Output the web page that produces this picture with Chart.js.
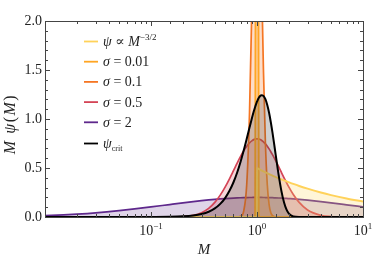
<!DOCTYPE html>
<html>
<head>
<meta charset="utf-8">
<script src="https://cdn.jsdelivr.net/npm/chart.js@4.4.1/dist/chart.umd.min.js"></script>
<style>
  html, body { margin: 0; padding: 0; background: #fff; }
</style>
</head>
<body>
<canvas id="massChart" width="374" height="265"></canvas>
<script>
// masses M (shared grid, dense around M = 1)
const masses = [
  0.01, 0.015, 0.02, 0.03, 0.05, 0.07, 0.1, 0.15, 0.2, 0.25,
  0.3, 0.35, 0.4, 0.45, 0.5, 0.55, 0.6, 0.65, 0.7, 0.75,
  0.8, 0.85, 0.9, 0.93, 0.96, 0.98, 0.99, 0.995, 1, 1.005,
  1.01, 1.02, 1.04, 1.07, 1.1, 1.15, 1.2, 1.25, 1.3, 1.35,
  1.4, 1.45, 1.5, 1.6, 1.7, 1.8, 1.9, 2, 2.2, 2.5,
  3, 4, 5, 7, 10
]

// M psi(M) for each curve
const powerLaw = [
  0, 0, 0, 0, 0, 0, 0, 0, 0, 0,
  0, 0, 0, 0, 0, 0, 0, 0, 0, 0,
  0, 0, 0, 0, 0, 0, 0, 0, 0.5, 0.4988,
  0.4975, 0.4951, 0.4903, 0.4834, 0.4767, 0.4663, 0.4564, 0.4472, 0.4385, 0.4303,
  0.4226, 0.4152, 0.4082, 0.3953, 0.3835, 0.3727, 0.3627, 0.3536, 0.3371, 0.3162,
  0.2887, 0.25, 0.2236, 0.189, 0.1581
]
const sigma001 = [
  0, 0, 0, 0, 0, 0, 0, 0, 0, 0,
  0, 0, 0, 0, 0, 0, 0, 0, 0, 0,
  0, 0, 0, 0, 0.0099, 5.19, 24.07, 35.18, 39.89, 35.22,
  24.32, 5.62, 0.018, 0, 0, 0, 0, 0, 0, 0,
  0, 0, 0, 0, 0, 0, 0, 0, 0, 0,
  0, 0, 0, 0, 0
]
const sigma01 = [
  0, 0, 0, 0, 0, 0, 0, 0, 0, 0,
  0, 0, 0, 0, 0, 0, 0, 0.0004, 0.0069, 0.0634,
  0.331, 1.065, 2.29, 3.066, 3.67, 3.909, 3.969, 3.984, 3.989, 3.984,
  3.969, 3.912, 3.694, 3.173, 2.533, 1.502, 0.757, 0.331, 0.1276, 0.0442,
  0.0139, 0.004, 0.001, 0, 0, 0, 0, 0, 0, 0,
  0, 0, 0, 0, 0
]
const sigma05 = [
  0, 0, 0, 0, 0, 0, 0, 0.0006, 0.0045, 0.0171,
  0.044, 0.088, 0.149, 0.223, 0.305, 0.39, 0.473, 0.5505, 0.6186, 0.676,
  0.722, 0.757, 0.78, 0.7895, 0.7952, 0.7972, 0.7978, 0.7979, 0.7979, 0.7979,
  0.7978, 0.7973, 0.7954, 0.7906, 0.7835, 0.7673, 0.7466, 0.7223, 0.6953, 0.6664,
  0.6364, 0.6054, 0.5743, 0.513, 0.4543, 0.3998, 0.35, 0.305, 0.2301, 0.149,
  0.0714, 0.0171, 0.0045, 0.0004, 0
]
const sigma2 = [
  0.0141, 0.022, 0.0295, 0.0429, 0.065, 0.0824, 0.1028, 0.1272, 0.1443, 0.1569,
  0.1664, 0.1738, 0.1796, 0.1842, 0.1878, 0.1908, 0.1931, 0.1949, 0.1963, 0.1974,
  0.1982, 0.1988, 0.1992, 0.1994, 0.1995, 0.1995, 0.1995, 0.1995, 0.1995, 0.1995,
  0.1995, 0.1995, 0.1995, 0.1994, 0.1993, 0.199, 0.1986, 0.1982, 0.1978, 0.1972,
  0.1967, 0.1961, 0.1954, 0.194, 0.1926, 0.191, 0.1895, 0.1878, 0.1846, 0.1796,
  0.1715, 0.1569, 0.1443, 0.1243, 0.1028
]
const psiCrit = [
  0, 0, 0, 0, 0, 0.0001, 0.0005, 0.0021, 0.0065, 0.0151,
  0.0301, 0.0535, 0.0873, 0.1335, 0.1932, 0.267, 0.3546, 0.4545, 0.5645, 0.6805,
  0.7983, 0.9123, 1.0171, 1.0731, 1.1228, 1.1518, 1.165, 1.1713, 1.1772, 1.1829,
  1.1885, 1.1988, 1.2164, 1.2349, 1.2436, 1.236, 1.2017, 1.1428, 1.063, 0.967,
  0.8604, 0.7485, 0.6365, 0.4298, 0.2642, 0.1475, 0.0746, 0.0341, 0.0052, 0.0001,
  0, 0, 0, 0, 0
]

const xTickLabels = [[0.1, '10', '\u22121'], [1, '10', '0'], [10, '10', '1']]
const yTickLabels = [0, 0.5, 1, 1.5, 2]

const serif = "'Liberation Serif', 'DejaVu Serif', serif"
const textColor = '#222'

function pts(ys) {
  return masses.map((m, i) => ({ x: m, y: ys[i] }))
}

function ds(label, ys, color, fillColor, width, order) {
  return {
    label: label,
    data: pts(ys),
    borderColor: color,
    backgroundColor: fillColor,
    borderWidth: width,
    fill: 'origin',
    pointRadius: 0,
    cubicInterpolationMode: 'monotone',
    order: order
  }
}

const datasets = [
  ds('powerlaw', powerLaw, 'rgb(255,210,90)', 'rgba(255,214,100,0.25)', 1.9, 1),
  ds('s001', sigma001, 'rgb(255,165,35)', 'rgba(255,168,40,0.28)', 1.8, 2),
  ds('s01', sigma01, 'rgb(245,118,35)', 'rgba(247,120,40,0.25)', 1.7, 3),
  ds('s05', sigma05, 'rgb(212,68,86)', 'rgba(214,72,88,0.22)', 1.7, 4),
  ds('s2', sigma2, 'rgb(94,40,140)', 'rgba(96,44,140,0.2)', 1.7, 5),
  ds('crit', psiCrit, '#000', 'rgba(60,60,60,0.24)', 2, 0)
]

// draws a run of text pieces: [text, italic, size, dy]
function drawRuns(ctx, x, y, runs, align) {
  let w = 0
  runs.forEach(r => {
    ctx.font = (r[1] ? 'italic ' : '') + r[2] + 'px ' + serif
    w += ctx.measureText(r[0]).width
  })
  let cx = align === 'center' ? x - w / 2 : x
  runs.forEach(r => {
    ctx.font = (r[1] ? 'italic ' : '') + r[2] + 'px ' + serif
    ctx.fillText(r[0], cx, y + r[3])
    cx += ctx.measureText(r[0]).width
  })
}

const legendItems = [
  ['rgb(255,210,90)', [['\u03c8', true, 14, 0], [' \u221d ', false, 14, 0], ['M', true, 14, 0], ['\u22123/2', false, 9, -6]]],
  ['rgb(255,165,35)', [['\u03c3', true, 14, 0], [' = 0.01', false, 14, 0]]],
  ['rgb(245,118,35)', [['\u03c3', true, 14, 0], [' = 0.1', false, 14, 0]]],
  ['rgb(212,68,86)', [['\u03c3', true, 14, 0], [' = 0.5', false, 14, 0]]],
  ['rgb(94,40,140)', [['\u03c3', true, 14, 0], [' = 2', false, 14, 0]]],
  ['#000', [['\u03c8', true, 14, 0], ['crit', false, 8, 3]]]
]

const framePlugin = {
  id: 'frame',
  afterDraw(chart) {
    const ctx = chart.ctx
    const a = chart.chartArea
    const xs = chart.scales.x
    const ys = chart.scales.y
    ctx.save()
    ctx.strokeStyle = '#444'
    ctx.lineWidth = 1
    ctx.strokeRect(a.left + 0.5, a.top + 0.5, a.right - a.left, a.bottom - a.top)

    // inward ticks on all four sides
    ctx.beginPath()
    xs.ticks.forEach(t => {
      const px = Math.round(xs.getPixelForValue(t.value)) + 0.5
      const major = Math.abs(Math.log10(t.value) - Math.round(Math.log10(t.value))) < 1e-6
      const len = major ? 5 : 3
      ctx.moveTo(px, a.bottom); ctx.lineTo(px, a.bottom - len)
      ctx.moveTo(px, a.top); ctx.lineTo(px, a.top + len)
    })
    ys.ticks.forEach(t => {
      const py = Math.round(ys.getPixelForValue(t.value)) + 0.5
      const major = Math.abs(t.value * 2 - Math.round(t.value * 2)) < 1e-6
      const len = major ? 5 : 3
      ctx.moveTo(a.left, py); ctx.lineTo(a.left + len, py)
      ctx.moveTo(a.right, py); ctx.lineTo(a.right - len, py)
    })
    ctx.stroke()

    ctx.fillStyle = textColor
    ctx.textBaseline = 'alphabetic'
    ctx.textAlign = 'left'

    // x tick labels with superscripts
    xTickLabels.forEach(l => {
      const px = xs.getPixelForValue(l[0])
      drawRuns(ctx, px, a.bottom + 18, [[l[1], false, 14, 0], [l[2], false, 9, -6]], 'center')
    })

    // y axis title
    ctx.save()
    ctx.translate(15, 124)
    ctx.rotate(-Math.PI / 2)
    ctx.letterSpacing = '1.5px'
    drawRuns(ctx, 0, 0, [['M', true, 16, 0], [' ', false, 16, 0], ['\u03c8', true, 16, 0], ['(', false, 16, 0], ['M', true, 16, 0], [')', false, 16, 0]], 'center')
    ctx.restore()

    // legend
    legendItems.forEach((it, i) => {
      const y = a.top + 20.5 + i * 20.2 + (i === 5 ? 1 : 0)
      ctx.strokeStyle = it[0]
      ctx.lineWidth = 1.8
      ctx.beginPath()
      ctx.moveTo(84, y); ctx.lineTo(98, y)
      ctx.stroke()
      drawRuns(ctx, 103, y + 4.5, it[1], 'left')
    })
    ctx.restore()
  }
}

new Chart(document.querySelector('#massChart'), {
  type: 'line',
  data: { datasets: datasets },
  options: {
    responsive: false,
    devicePixelRatio: 1,
    animation: false,
    layout: { padding: { top: 21, right: 11, left: 0, bottom: 0 } },
    plugins: { legend: { display: false }, tooltip: { enabled: false } },
    scales: {
      x: {
        type: 'logarithmic',
        min: 0.01,
        max: 10,
        grid: { display: false, drawTicks: false },
        border: { display: false },
        ticks: { display: false },
        title: {
          display: true,
          text: 'M',
          color: textColor,
          font: { family: serif, size: 15, style: 'italic' },
          padding: { top: 0, bottom: 6 }
        },
        afterFit: s => { s.height = 48 }
      },
      y: {
        min: 0,
        max: 2,
        grid: { display: false, drawTicks: false },
        border: { display: false },
        ticks: {
          stepSize: 0.1,
          autoSkip: false,
          padding: 3,
          color: textColor,
          font: { family: serif, size: 14 },
          callback: v => yTickLabels.some(t => Math.abs(t - v) < 1e-6) ? v.toFixed(1) : ''
        },
        afterFit: s => { s.width = 45 }
      }
    }
  },
  plugins: [framePlugin]
})
</script>
</body>
</html>
